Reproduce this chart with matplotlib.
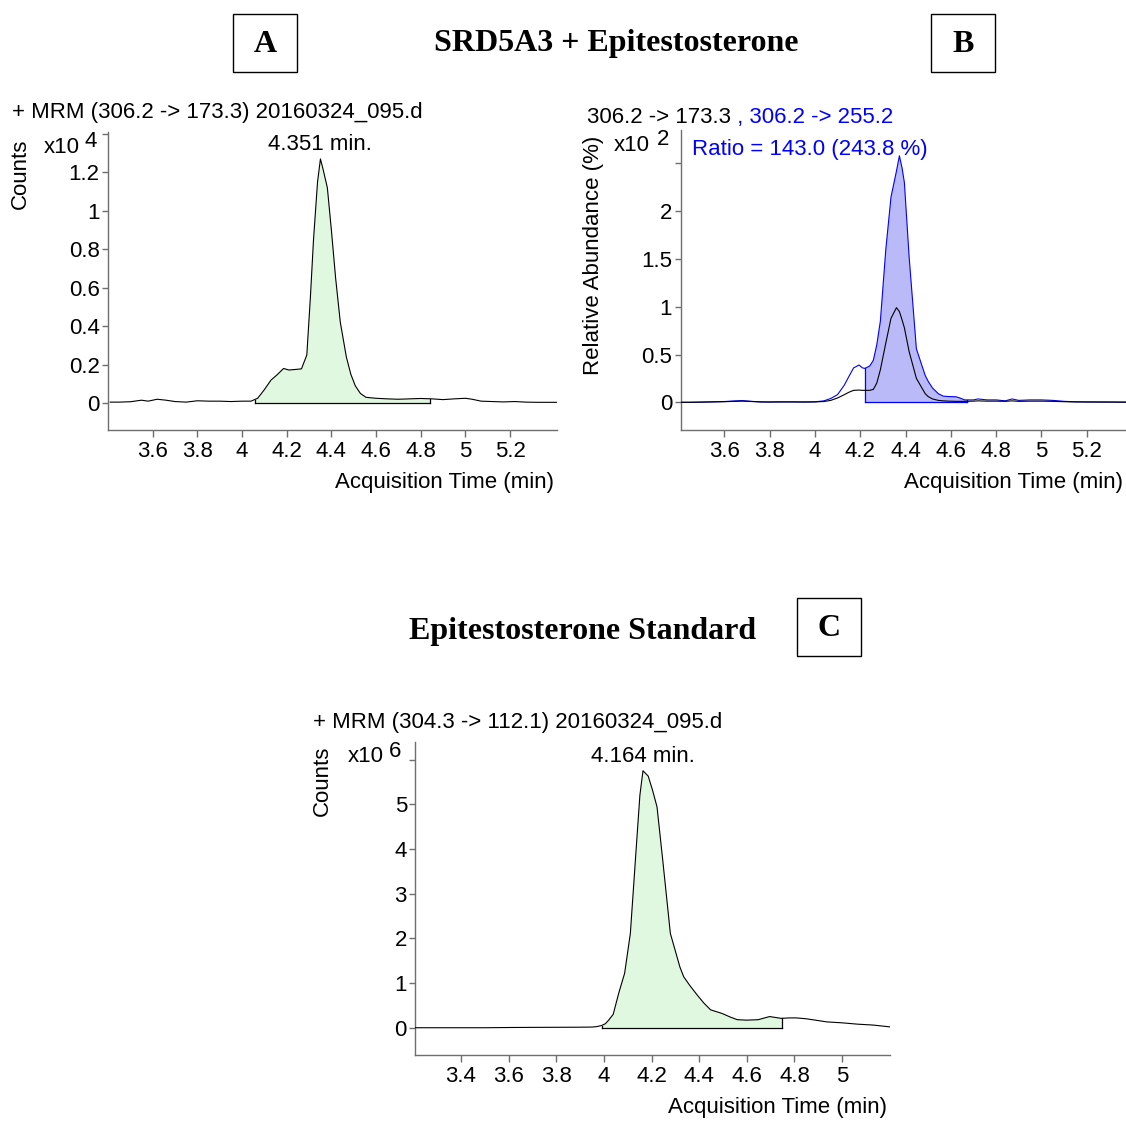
import numpy as np
import matplotlib
matplotlib.use("Agg")
import matplotlib.pyplot as plt
from matplotlib.patches import Rectangle

plt.rcParams['font.family'] = ['Liberation Sans', 'DejaVu Sans']

# panel A: 306.2 -> 173.3, counts x10^4
a_time = [3.41, 3.45, 3.50, 3.55, 3.58, 3.62, 3.66, 3.70, 3.75, 3.80, 3.85, 3.90, 3.95,
          4.00, 4.04, 4.07, 4.10, 4.13, 4.155, 4.186, 4.21, 4.24, 4.266, 4.29, 4.306,
          4.32, 4.338, 4.351, 4.362, 4.382, 4.40, 4.419, 4.44, 4.467, 4.487, 4.507,
          4.53, 4.555, 4.60, 4.65, 4.70, 4.75, 4.80, 4.85, 4.90, 4.95, 5.00, 5.03,
          5.07, 5.12, 5.17, 5.22, 5.27, 5.32, 5.41]
a_counts = [0.005, 0.005, 0.007, 0.015, 0.01, 0.02, 0.015, 0.008, 0.005, 0.012, 0.01,
            0.01, 0.008, 0.01, 0.01, 0.025, 0.07, 0.12, 0.145, 0.18, 0.172, 0.175,
            0.178, 0.25, 0.55, 0.85, 1.15, 1.27, 1.22, 1.12, 0.9, 0.65, 0.42, 0.24,
            0.15, 0.09, 0.05, 0.03, 0.025, 0.022, 0.02, 0.022, 0.024, 0.022, 0.018,
            0.022, 0.025, 0.02, 0.01, 0.008, 0.006, 0.008, 0.005, 0.004, 0.004]
a_peak = 4.351
a_integ = (4.057, 4.84)

# panel B: qualifier vs quantifier, relative abundance x10^2 %
b_time = [3.407, 3.45, 3.50, 3.55, 3.60, 3.65, 3.68, 3.72, 3.76, 3.80, 3.85, 3.90,
          3.95, 4.00, 4.04, 4.07, 4.10, 4.13, 4.15, 4.171, 4.195, 4.21, 4.221, 4.242,
          4.258, 4.273, 4.289, 4.313, 4.336, 4.36, 4.373, 4.385, 4.395, 4.416, 4.448,
          4.487, 4.50, 4.519, 4.545, 4.566, 4.59, 4.622, 4.64, 4.661, 4.70, 4.72,
          4.76, 4.80, 4.84, 4.87, 4.90, 4.95, 5.00, 5.05, 5.10, 5.15, 5.20, 5.30, 5.373]
b_qual = [0.0, 0.0, 0.002, 0.005, 0.008, 0.015, 0.018, 0.01, 0.004, 0.003, 0.004,
          0.004, 0.003, 0.005, 0.015, 0.04, 0.08, 0.18, 0.27, 0.36, 0.39, 0.36, 0.355,
          0.38, 0.44, 0.6, 0.85, 1.6, 2.15, 2.42, 2.58, 2.45, 2.3, 1.52, 0.56, 0.28,
          0.22, 0.15, 0.09, 0.065, 0.06, 0.058, 0.045, 0.025, 0.025, 0.035, 0.025,
          0.025, 0.015, 0.035, 0.02, 0.025, 0.025, 0.02, 0.01, 0.005, 0.004, 0.003, 0.002]
b_quant = [0.0, 0.0, 0.002, 0.004, 0.006, 0.01, 0.012, 0.008, 0.004, 0.003, 0.004,
           0.004, 0.003, 0.004, 0.008, 0.02, 0.045, 0.08, 0.105, 0.125, 0.128, 0.125,
           0.125, 0.125, 0.135, 0.2, 0.34, 0.62, 0.88, 0.99, 0.95, 0.86, 0.78, 0.53,
           0.25, 0.09, 0.06, 0.035, 0.02, 0.015, 0.012, 0.01, 0.01, 0.01, 0.012, 0.015,
           0.012, 0.012, 0.01, 0.015, 0.01, 0.012, 0.012, 0.01, 0.006, 0.004, 0.003,
           0.002, 0.001]
b_integ = (4.221, 4.672)

# panel C: epitestosterone standard, counts x10^6
c_time = [3.208, 3.30, 3.40, 3.50, 3.60, 3.70, 3.80, 3.90, 3.95, 3.97, 3.99, 4.006,
          4.02, 4.039, 4.062, 4.087, 4.111, 4.135, 4.151, 4.164, 4.186, 4.205, 4.223,
          4.247, 4.279, 4.319, 4.335, 4.36, 4.392, 4.42, 4.448, 4.496, 4.53, 4.56,
          4.60, 4.648, 4.675, 4.696, 4.72, 4.744, 4.78, 4.808, 4.85, 4.90, 4.937,
          5.00, 5.065, 5.13, 5.20]
c_counts = [0.0, 0.0, 0.0, 0.0, 0.005, 0.008, 0.01, 0.012, 0.015, 0.025, 0.05, 0.09,
            0.17, 0.3, 0.77, 1.22, 2.11, 3.97, 5.2, 5.75, 5.63, 5.3, 4.94, 3.75, 2.11,
            1.36, 1.14, 0.95, 0.73, 0.55, 0.4, 0.32, 0.24, 0.18, 0.17, 0.18, 0.22,
            0.25, 0.23, 0.21, 0.22, 0.22, 0.2, 0.16, 0.13, 0.11, 0.08, 0.06, 0.02]
c_peak = 4.164
c_integ = (3.99, 4.749)

GRAY = '#6e6e6e'
GREEN = '#e0f8e0'
BLUE_FILL = '#babaf8'
FS = 16

W, H = 1126, 1121


def rect(left, top, right, bottom):
    return [left / W, 1 - bottom / H, (right - left) / W, (bottom - top) / H]


def style(ax, xlim, ylim, xticks, yticks):
    ax.set_xlim(*xlim)
    ax.set_ylim(*ylim)
    for s in ['top', 'right']:
        ax.spines[s].set_visible(False)
    for s in ['left', 'bottom']:
        ax.spines[s].set_color(GRAY)
        ax.spines[s].set_linewidth(1.0)
    ax.set_xticks(xticks)
    ax.set_xticklabels(['%g' % round(t, 2) for t in xticks])
    ax.set_yticks(yticks)
    ax.set_yticklabels(['%g' % round(t, 2) for t in yticks[:-1]] + [''])
    ax.tick_params(direction='out', color=GRAY, labelsize=FS, width=1.0)
    ax.tick_params(axis='y', length=4, pad=2)
    ax.tick_params(axis='x', length=5, pad=3)
    ax.patch.set_alpha(0)


def integ_fill(ax, t, v, span, face, edge):
    t = np.asarray(t)
    v = np.asarray(v)
    lo, hi = span
    m = (t > lo) & (t < hi)
    xs = np.concatenate([[lo], t[m], [hi]])
    ys = np.interp(xs, t, v)
    ax.fill_between(xs, ys, 0, facecolor=face, edgecolor='none', zorder=1)
    ax.plot([lo, hi], [0, 0], color=edge, lw=0.9, zorder=2)
    ax.plot([lo, lo], [0, ys[0]], color=edge, lw=0.9, zorder=2)
    ax.plot([hi, hi], [0, ys[-1]], color=edge, lw=0.9, zorder=2)


def exponent(ax, exp, dx_x10, dx_exp):
    ax.annotate('x10', xy=(0, 1), xycoords='axes fraction', xytext=(dx_x10, -11),
                textcoords='offset points', ha='right', va='center', fontsize=FS)
    ax.annotate(exp, xy=(0, 1), xycoords='axes fraction', xytext=(dx_exp, -7),
                textcoords='offset points', ha='right', va='center', fontsize=FS)


def ylabel(ax, text, dx, dy):
    ax.annotate(text, xy=(0, 1), xycoords='axes fraction', xytext=(dx, dy),
                textcoords='offset points', ha='center', va='top', rotation=90,
                fontsize=FS)


def xlabel(ax, text):
    ax.annotate(text, xy=(1, 0), xycoords='axes fraction', xytext=(-2, -30),
                textcoords='offset points', ha='right', va='top', fontsize=FS)


fig = plt.figure(figsize=(W / 100, H / 100), dpi=100)

# ---- A
axA = fig.add_axes(rect(108, 132, 557, 430))
integ_fill(axA, a_time, a_counts, a_integ, GREEN, 'black')
axA.plot(a_time, a_counts, color='black', lw=0.8, zorder=3)
style(axA, (3.40, 5.41), (-0.14, 1.41),
      [3.6, 3.8, 4.0, 4.2, 4.4, 4.6, 4.8, 5.0, 5.2],
      [0, 0.2, 0.4, 0.6, 0.8, 1.0, 1.2, 1.4])
exponent(axA, '4', -20, -8)
ylabel(axA, 'Counts', -63, -5)
xlabel(axA, 'Acquisition Time (min)')
axA.annotate('+ MRM (306.2 -> 173.3) 20160324_095.d', xy=(0, 1), xycoords='axes fraction',
             xytext=(-69, 14), textcoords='offset points', ha='left', va='center', fontsize=FS)
axA.annotate('%.3f min.' % a_peak, xy=(a_peak, max(a_counts)), xytext=(0, 3),
             textcoords='offset points', ha='center', va='bottom', fontsize=FS)

# ---- B
axB = fig.add_axes(rect(680.5, 130, 1126, 430))
integ_fill(axB, b_time, b_qual, b_integ, BLUE_FILL, 'blue')
axB.plot(b_time, b_qual, color='blue', lw=0.8, zorder=3)
axB.plot(b_time, b_quant, color='black', lw=0.8, zorder=4)
style(axB, (3.407, 5.373), (-0.29, 2.85),
      [3.6, 3.8, 4.0, 4.2, 4.4, 4.6, 4.8, 5.0, 5.2],
      [0, 0.5, 1.0, 1.5, 2.0, 2.5])
exponent(axB, '2', -22, -8)
ylabel(axB, 'Relative Abundance (%)', -63, -4)
xlabel(axB, 'Acquisition Time (min)')
t1 = axB.annotate('306.2 -> 173.3', xy=(0, 1), xycoords='axes fraction',
                  xytext=(-67, 9), textcoords='offset points', ha='left', va='center',
                  fontsize=FS)
axB.annotate(' , 306.2 -> 255.2', xy=(1, 0), xycoords=t1, ha='left', va='bottom',
             fontsize=FS, color='blue')
axB.annotate('Ratio = 143.0 (243.8 %)', xy=(0, 1), xycoords='axes fraction',
             xytext=(8, -14), textcoords='offset points', ha='left', va='center',
             fontsize=FS, color='blue')

# ---- C
axC = fig.add_axes(rect(415.3, 741.7, 889.7, 1055))
integ_fill(axC, c_time, c_counts, c_integ, GREEN, 'black')
axC.plot(c_time, c_counts, color='black', lw=0.8, zorder=3)
style(axC, (3.208, 5.2), (-0.61, 6.40),
      [3.4, 3.6, 3.8, 4.0, 4.2, 4.4, 4.6, 4.8, 5.0],
      [0, 1, 2, 3, 4, 5, 6])
exponent(axC, '6', -23, -10)
ylabel(axC, 'Counts', -67, -3)
xlabel(axC, 'Acquisition Time (min)')
axC.annotate('+ MRM (304.3 -> 112.1) 20160324_095.d', xy=(0, 1), xycoords='axes fraction',
             xytext=(-74, 14), textcoords='offset points', ha='left', va='center', fontsize=FS)
axC.annotate('%.3f min.' % c_peak, xy=(c_peak, max(c_counts)), xytext=(0, 3),
             textcoords='offset points', ha='center', va='bottom', fontsize=FS)

# ---- headings and letter boxes
serif = ['Liberation Serif', 'DejaVu Serif']
fig.text(616 / W, 1 - 43 / H, 'SRD5A3 + Epitestosterone', ha='center', va='center',
         fontsize=23, fontweight='bold', family=serif)
fig.text(583 / W, 1 - 632 / H, 'Epitestosterone Standard', ha='center', va='center',
         fontsize=23, fontweight='bold', family=serif)
for letter, (x0, y0) in zip(['A', 'B', 'C'], [(233, 14), (931, 14), (797, 598)]):
    fig.patches.append(Rectangle((x0 / W, 1 - (y0 + 58) / H), 64 / W, 58 / H,
                                 transform=fig.transFigure, fill=False,
                                 edgecolor='black', lw=1.0))
    fig.text((x0 + 32) / W, 1 - (y0 + 31) / H, letter, ha='center', va='center',
             fontsize=23, fontweight='bold', family=serif)

fig.savefig('out.png', dpi=100)
